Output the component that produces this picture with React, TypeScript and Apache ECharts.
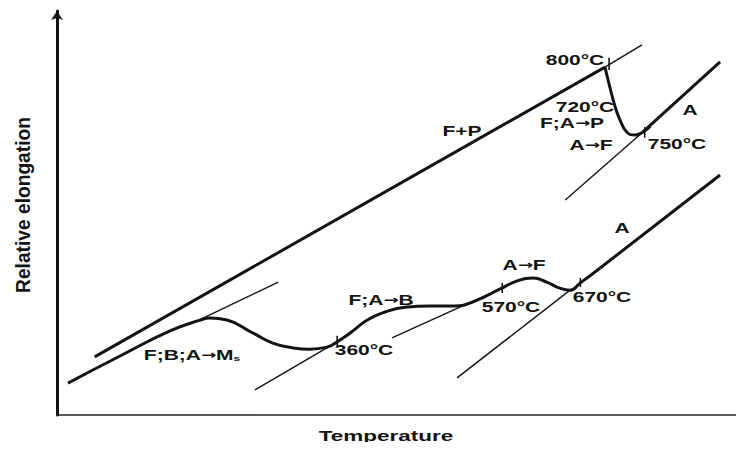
import React, { useEffect, useRef } from "react";
import * as echarts from "echarts";

// Abstract units: temperature 0..100 (x), relative elongation 0..100 (y)
const heatingFP: number[][] = [[5.5, 14.4], [80.0, 86.1]];
const heatingDrop: number[][] = [[80.0, 86.1], [80.7, 81.2], [81.5, 76.2], [82.2, 73.0], [83.2, 70.0], [84.4, 69.3], [85.5, 70.0], [86.6, 71.4]];
const heatingA: number[][] = [[85.5, 70.0], [96.8, 87.4]];
const heatingExt800: number[][] = [[80.0, 86.1], [85.4, 91.6]];
const heatingExtA: number[][] = [[85.5, 70.0], [74.2, 53.2]];

const coolingCurve: number[][] = [
  [1.6, 7.9], [9.2, 14.6], [16.5, 20.8], [20.9, 23.5], [22.3, 24.0], [24.8, 23.5],
  [28.6, 20.3], [31.5, 17.8], [34.5, 16.6], [36.9, 16.3], [39.4, 16.8], [40.9, 18.1],
  [42.8, 20.3], [45.3, 23.5], [47.9, 25.5], [50.8, 26.7], [54.5, 27.0], [58.1, 27.0],
  [61.0, 28.2], [64.7, 31.2], [67.2, 33.2], [69.5, 33.9], [71.5, 32.9], [73.4, 31.4],
  [74.9, 30.9], [76.4, 32.7], [79.3, 36.4],
];
const coolingA: number[][] = [[79.3, 36.4], [96.8, 59.4]];
const tangentMs: number[][] = [[20.1, 23.0], [32.3, 32.9]];
const tangent360: number[][] = [[28.9, 6.2], [40.9, 18.1]];
const tangent570: number[][] = [[48.9, 19.1], [64.7, 31.2]];
const tangent670: number[][] = [[58.4, 9.2], [74.9, 30.9]];

// short transition tick marks: [x, yLow, yHigh]
const transitionTicks: number[][] = [
  [80.6, 85.4, 88.4],
  [85.8, 68.6, 71.3],
  [40.9, 17.1, 19.6],
  [65.0, 30.2, 32.7],
  [76.4, 31.7, 33.9],
];

const xTitle = "Temperature";
const yTitle = "Relative elongation";

const INK = "#141414";
const FONT = "Liberation Sans, Arial, sans-serif";

function thick(data: number[][], smooth = false) {
  return {
    type: "line", data, smooth, showSymbol: false, symbol: "none", silent: true,
    lineStyle: { color: INK, width: 3 },
  };
}
function thin(data: number[][], width = 1.4) {
  return {
    type: "line", data, showSymbol: false, symbol: "none", silent: true,
    lineStyle: { color: INK, width },
  };
}

const rich = {
  arr: { fontSize: 12, fontWeight: "bold", fontFamily: "DejaVu Sans", fill: INK },
  sub: { fontSize: 8, fontWeight: "bold", fontFamily: FONT, fill: INK, verticalAlign: "bottom" },
};

function label(text: string, x: number, y: number, fontSize = 14, sx = 1.5) {
  return {
    type: "text", x, y, scaleX: sx, scaleY: 1, silent: true,
    style: {
      text, fill: INK, fontSize, fontWeight: "bold", fontFamily: FONT,
      align: "center", verticalAlign: "middle", rich,
    },
  };
}

export default function App() {
  const ref = useRef<HTMLDivElement>(null);
  useEffect(() => {
    if (!ref.current) return;
    const chart = echarts.init(ref.current, null, { renderer: "svg" });
    chart.setOption({
      animation: false,
      backgroundColor: "#ffffff",
      grid: { left: 57, right: 2, top: 11, bottom: 35 },
      xAxis: {
        type: "value", min: 0, max: 100,
        axisLabel: { show: false }, axisTick: { show: false }, splitLine: { show: false },
        axisLine: { show: true, lineStyle: { color: "#222", width: 1.5 }, symbol: ["none", "rect"], symbolSize: [8, 2] },
      },
      yAxis: {
        type: "value", min: 0, max: 100,
        axisLabel: { show: false }, axisTick: { show: false }, splitLine: { show: false },
        axisLine: { show: true, lineStyle: { color: INK, width: 3 }, symbol: ["none", "arrow"], symbolSize: [9, 9] },
      },
      series: [
        thick(heatingFP),
        thick(heatingDrop, true),
        thick(heatingA),
        thin(heatingExt800),
        thin(heatingExtA),
        thick(coolingCurve, true),
        thick(coolingA),
        thin(tangentMs),
        thin(tangent360),
        thin(tangent570),
        thin(tangent670),
        ...transitionTicks.map((t) => thin([[t[0], t[1]], [t[0], t[2]]], 1.6)),
      ],
      graphic: [
        label("800°C", 575, 60),
        label("720°C", 585, 107),
        label("F;A{arr|→}P", 572, 123),
        label("A{arr|→}F", 591, 145),
        label("750°C", 677, 144),
        label("A", 690, 110),
        label("F+P", 462, 131),
        label("A", 622, 228),
        label("A{arr|→}F", 524, 265),
        label("670°C", 602, 297),
        label("570°C", 511, 307),
        label("F;A{arr|→}B", 381, 300),
        label("360°C", 364, 350),
        label("F;B;A{arr|→}M{sub|s}", 192, 355),
        label(xTitle, 386, 436, 15, 1.5),
        {
          type: "text", x: 23, y: 205, rotation: Math.PI / 2, scaleX: 1.37, scaleY: 1.5, silent: true,
          style: {
            text: yTitle, fill: INK, fontSize: 14, fontWeight: "bold", fontFamily: FONT,
            align: "center", verticalAlign: "middle",
          },
        },
      ],
    });
    return () => chart.dispose();
  }, []);
  return <div ref={ref} style={{ width: 744, height: 450, margin: -8 }} />;
}
